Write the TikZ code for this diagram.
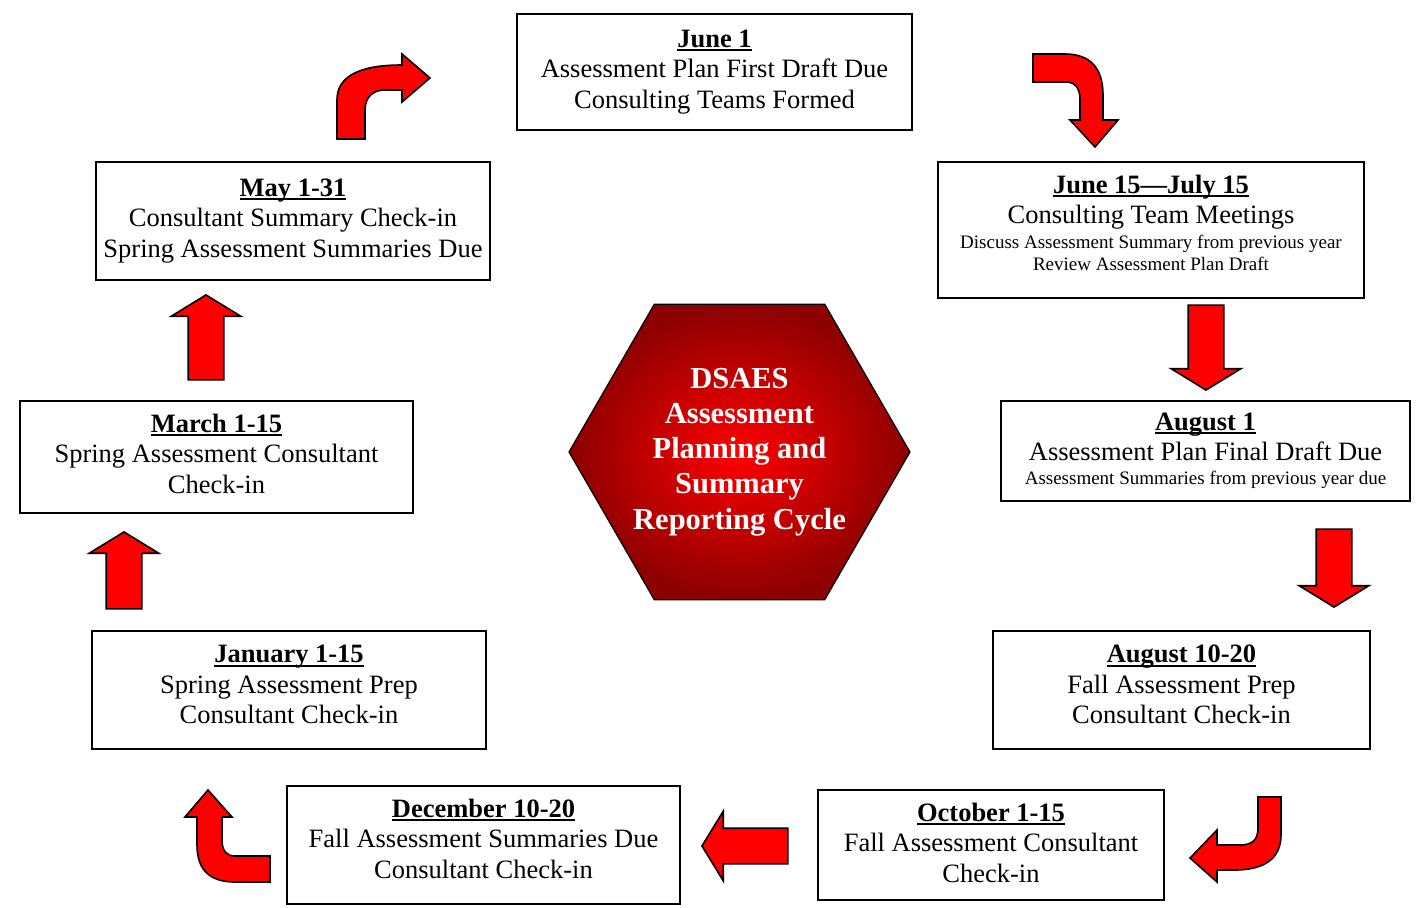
\documentclass[tikz,border=0pt]{standalone}
\usepackage{fontspec}
\setmainfont{Liberation Serif}
\usetikzlibrary{shapes.geometric,shapes.arrows}
\definecolor{hexdark}{RGB}{140,0,0}
\newsavebox{\headbox}
\newcommand{\datehead}[1]{\sbox{\headbox}{\textbf{#1}}\rlap{\rule[-4pt]{\wd\headbox}{2.2pt}}\usebox{\headbox}}
\newcommand{\smallline}{\fontsize{19}{22}\selectfont}
\newcommand{\lift}[1]{\rule[-#1]{0pt}{#1}}
\tikzset{every node/.style={align=center},
  datebox/.style={draw, line width=1.6pt, inner sep=0pt, font=\fontsize{26.5}{30.5}\selectfont},
  blockarr/.style={single arrow, draw, fill=red, line width=1.6pt, inner sep=17pt, anchor=tip,
    minimum width=68pt, single arrow head extend=17pt, single arrow tip angle=117}
  ,curvearr/.style={draw, fill=red, line width=1.6pt, line join=miter}}

\begin{document}
\begin{tikzpicture}[x=1pt, y=-1pt]
\useasboundingbox (0,0) rectangle (1426,907);

% dated steps, clockwise from the top
\node[datebox, minimum width=395pt, minimum height=116pt] (june1) at (714.5,72)
  {\datehead{June 1}\\ Assessment Plan First Draft Due\\ Consulting Teams Formed\lift{4pt}};
\node[datebox, minimum width=426pt, minimum height=136pt] (june15) at (1151,230)
  {\datehead{June 15---July 15}\\ Consulting Team Meetings\\[-5.5pt]
   {\smallline Discuss Assessment Summary from previous year}\\[-8.5pt]
   {\smallline Review Assessment Plan Draft\lift{14pt}}};
\node[datebox, minimum width=409pt, minimum height=100pt] (aug1) at (1205.5,451)
  {\datehead{August 1}\\ Assessment Plan Final Draft Due\\[-6.5pt]
   {\smallline Assessment Summaries from previous year due}};
\node[datebox, minimum width=377pt, minimum height=118pt] (aug10) at (1181.5,690)
  {\datehead{August 10-20}\\ Fall Assessment Prep\\ Consultant Check-in\lift{11pt}};
\node[datebox, minimum width=346pt, minimum height=110pt] (oct1) at (991,845)
  {\datehead{October 1-15}\\ Fall Assessment Consultant\\ Check-in\lift{5pt}};
\node[datebox, minimum width=393pt, minimum height=118pt] (dec10) at (483.5,845)
  {\datehead{December 10-20}\\ Fall Assessment Summaries Due\\ Consultant Check-in\lift{13pt}};
\node[datebox, minimum width=394pt, minimum height=118pt] (jan1) at (289,690)
  {\datehead{January 1-15}\\ Spring Assessment Prep\\ Consultant Check-in\lift{11pt}};
\node[datebox, minimum width=393pt, minimum height=112pt] (mar1) at (216.5,457)
  {\datehead{March 1-15}\\ Spring Assessment Consultant\\ Check-in\lift{7pt}};
\node[datebox, minimum width=394pt, minimum height=118pt] (may1) at (293,221)
  {\datehead{May 1-31}\\ Consultant Summary Check-in\\ Spring Assessment Summaries Due\lift{6pt}};

% centre
\node[regular polygon, regular polygon sides=6, minimum size=341pt, inner sep=0pt, draw, line width=1.2pt,
  inner color=red, outer color=hexdark] (hex) at (739.5,452) {};
\node[text=white, font=\bfseries\fontsize{30.5}{35.25}\selectfont] (hextext) at (hex.center)
  {DSAES\\ Assessment\\ Planning and\\ Summary\\ Reporting Cycle};

% straight block arrows, placed by their tips
\node[blockarr, minimum height=85pt, shape border rotate=270] (a1) at (1206,391) {};
\node[blockarr, minimum height=78pt, shape border rotate=270] (a2) at (1334,608) {};
\node[blockarr, minimum height=86pt, shape border rotate=180] (a3) at (701,846) {};
\node[blockarr, minimum height=77pt, shape border rotate=90] (a4) at (124,531) {};
\node[blockarr, minimum height=85pt, shape border rotate=90] (a5) at (206,294) {};

% bent block arrows
\draw[curvearr] (337,139) -- (337,100) .. controls (337,76) and (360,65) .. (402,65) -- (402,54) -- (430,78)
  -- (402,102) -- (402,90) -- (385,90) .. controls (372,90) and (365,98) .. (365,110) -- (365,139) -- cycle;
\draw[curvearr] (1033,54) -- (1065,54) .. controls (1090,54) and (1103,68) .. (1103,95) -- (1103,120) -- (1118,120)
  -- (1095,147) -- (1070,120) -- (1080,120) -- (1080,100) .. controls (1080,88) and (1075,82) .. (1066,82) -- (1033,82) -- cycle;
\draw[curvearr] (1258,797) -- (1281,797) -- (1281,835) .. controls (1281,860) and (1262,870) .. (1235,870) -- (1217,870)
  -- (1217,882) -- (1190,858) -- (1217,830) -- (1217,845) -- (1240,845) .. controls (1252,845) and (1258,840) .. (1258,828) -- cycle;
\draw[curvearr] (270,856) -- (235,856) .. controls (226,856) and (222,850) .. (222,840) -- (222,817) -- (232,817)
  -- (208,790) -- (185,817) -- (197,817) -- (197,845) .. controls (197,870) and (210,882) .. (235,882) -- (270,882) -- cycle;
\end{tikzpicture}
\end{document}
